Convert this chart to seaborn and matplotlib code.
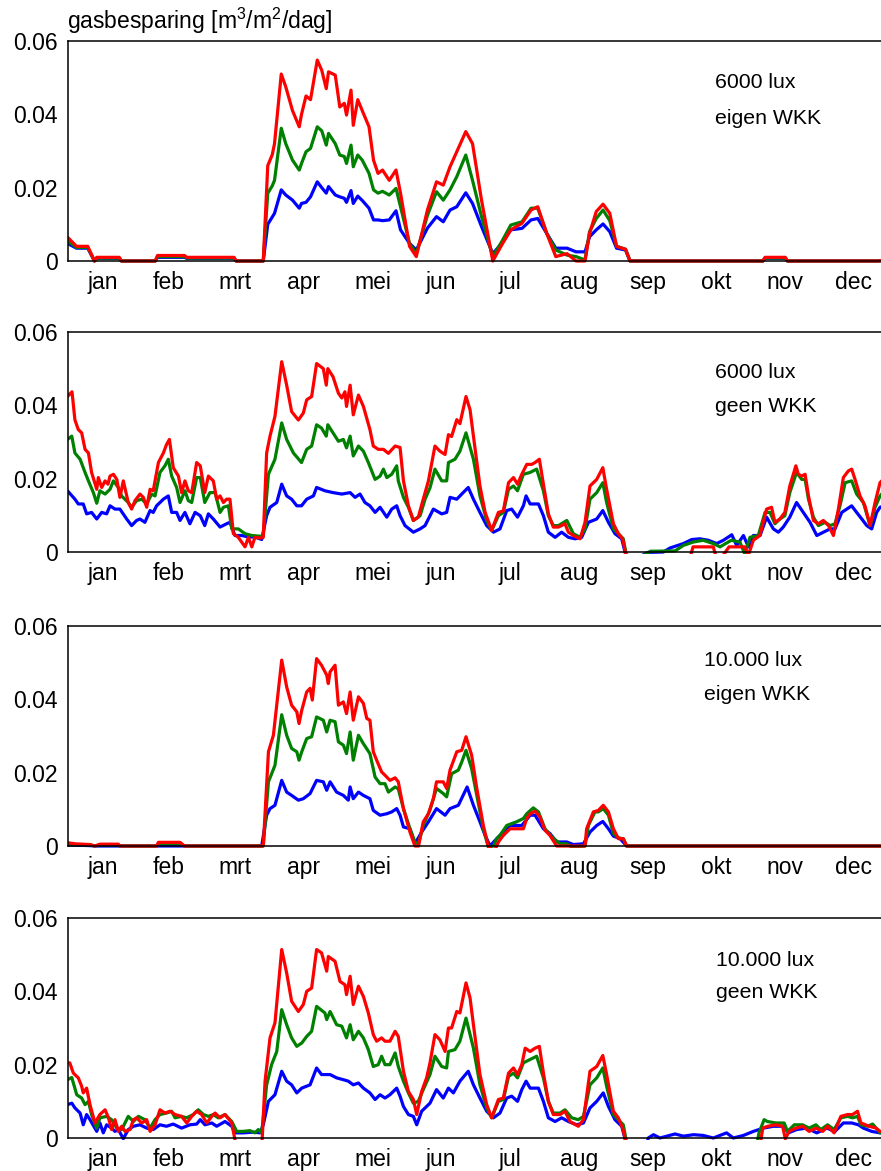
import matplotlib.pyplot as plt
import matplotlib.patches as mpatches
import pandas as pd
import seaborn as sns

# ── Axis data ────────────────────────────────────────────────────────────────
MONTHS = ["jan", "feb", "mrt", "apr", "mei", "jun",
          "jul", "aug", "sep", "okt", "nov", "dec"]
MONTH_DAYS = [31, 28, 31, 30, 31, 30, 31, 31, 30, 31, 30, 31]
Y_TICKS = [0, 0.02, 0.04, 0.06]
Y_LABELS = ["0", "0.02", "0.04", "0.06"]
LUX = ["6000 lux", "6000 lux", "10.000 lux", "10.000 lux"]
WKK = ["eigen WKK", "geen WKK", "eigen WKK", "geen WKK"]
SERIES = ["blauw", "groen", "rood"]
COLORS = {"blauw": "#0000FF", "groen": "#008000", "rood": "#FF0000"}

# ── Panel 1: 6000 lux, eigen WKK (shared day grid) ───────────────────────────
P1_DAY = [0, 4, 9, 12, 13, 23, 24, 39, 40, 52,
          53, 74, 75, 87, 89, 91, 92, 95, 97, 100,
          103, 104, 106, 108, 111, 113, 115, 116, 119, 121,
          123, 124, 126, 127, 129, 131, 134, 136, 138, 140,
          143, 146, 148, 152, 155, 160, 164, 167, 170, 173,
          177, 180, 184, 189, 193, 197, 202, 206, 209, 213,
          217, 222, 226, 230, 232, 235, 238, 241, 244, 248,
          250, 309, 310, 319, 320, 360, 365]
P1_RED = [0.0065, 0.0040, 0.0040, 0.0000, 0.0010, 0.0010, 0.0000, 0.0000, 0.0015, 0.0015,
          0.0010, 0.0010, 0.0000, 0.0000, 0.0260, 0.0290, 0.0320, 0.0510, 0.0475, 0.0410,
          0.0366, 0.0400, 0.0450, 0.0440, 0.0548, 0.0520, 0.0470, 0.0516, 0.0507, 0.0420,
          0.0430, 0.0398, 0.0466, 0.0370, 0.0440, 0.0410, 0.0366, 0.0275, 0.0239, 0.0248,
          0.0220, 0.0248, 0.0185, 0.0040, 0.0012, 0.0140, 0.0216, 0.0207, 0.0257, 0.0298,
          0.0353, 0.0320, 0.0166, 0.0000, 0.0044, 0.0085, 0.0103, 0.0139, 0.0148, 0.0075,
          0.0012, 0.0020, 0.0000, 0.0000, 0.0075, 0.0135, 0.0155, 0.0130, 0.0040, 0.0032,
          0.0000, 0.0000, 0.0010, 0.0010, 0.0000, 0.0000, 0.0003]
P1_GREEN = [0.0055, 0.0037, 0.0037, 0.0000, 0.0008, 0.0008, 0.0000, 0.0000, 0.0012, 0.0012,
            0.0008, 0.0008, 0.0000, 0.0000, 0.0185, 0.0205, 0.0220, 0.0362, 0.0320, 0.0275,
            0.0248, 0.0266, 0.0298, 0.0307, 0.0366, 0.0355, 0.0316, 0.0348, 0.0320, 0.0289,
            0.0285, 0.0266, 0.0316, 0.0257, 0.0289, 0.0275, 0.0239, 0.0194, 0.0185, 0.0190,
            0.0180, 0.0198, 0.0148, 0.0048, 0.0020, 0.0125, 0.0189, 0.0166, 0.0194, 0.0230,
            0.0289, 0.0220, 0.0121, 0.0012, 0.0053, 0.0098, 0.0107, 0.0144, 0.0144, 0.0075,
            0.0030, 0.0016, 0.0012, 0.0003, 0.0080, 0.0116, 0.0139, 0.0110, 0.0040, 0.0032,
            0.0000, 0.0000, 0.0008, 0.0008, 0.0000, 0.0000, 0.0002]
P1_BLUE = [0.0048, 0.0035, 0.0035, 0.0000, 0.0007, 0.0007, 0.0000, 0.0000, 0.0010, 0.0010,
           0.0007, 0.0007, 0.0000, 0.0000, 0.0100, 0.0120, 0.0130, 0.0194, 0.0180, 0.0166,
           0.0144, 0.0157, 0.0160, 0.0175, 0.0216, 0.0200, 0.0185, 0.0203, 0.0180, 0.0175,
           0.0171, 0.0160, 0.0192, 0.0157, 0.0177, 0.0165, 0.0144, 0.0112, 0.0112, 0.0110,
           0.0112, 0.0137, 0.0085, 0.0048, 0.0030, 0.0090, 0.0121, 0.0107, 0.0139, 0.0148,
           0.0186, 0.0157, 0.0094, 0.0020, 0.0048, 0.0085, 0.0089, 0.0112, 0.0116, 0.0075,
           0.0035, 0.0035, 0.0025, 0.0025, 0.0066, 0.0085, 0.0101, 0.0080, 0.0035, 0.0030,
           0.0000, 0.0000, 0.0007, 0.0007, 0.0000, 0.0000, 0.0002]

# ── Panel 2: 6000 lux, geen WKK ──────────────────────────────────────────────
P2_RED_DAY = [0, 2, 3.3, 4.8, 6.3, 7.8, 9.3, 10.7, 13, 13.7, 15.2, 16.7, 18, 18.9, 20.4,
              21.9, 23.3, 24.8, 27, 28.5, 30, 32.2, 33.7, 35.2, 36.7, 38.1, 40.4, 42.6,
              44, 45.3, 47, 49.3, 50.7, 52.2, 53.7, 55.2, 57.4, 59, 61, 62.6, 64.8, 66.3,
              67.8, 69.3, 70.7, 72.2, 73.7, 75.9, 78.9, 80.4, 81.9, 83.3, 85.6, 87, 88.5,
              90, 92.2, 95.2, 97.4, 99.6, 102.6, 104.8, 106.3, 108.5, 110.7, 113.7, 115,
              115.7, 118, 120.4, 121.9, 123.3, 124, 125.6, 127, 129.3, 131.5, 134.4, 135.9,
              138.1, 140.4, 142.6, 145.6, 147.8, 149.3, 151.5, 153.7, 155.9, 158.1, 160.4,
              163.3, 165.5, 167.8, 169.3, 170.7, 173, 174.4, 177.1, 178.9, 180.4, 183.3,
              185.6, 188.5, 191.5, 193.7, 196, 198.2, 200, 201.9, 204.1, 206.3, 207.8,
              209.7, 211.5, 213.7, 215.9, 218.2, 221.1, 222.6, 224.8, 227.8, 230, 232.2,
              235.2, 237.9, 239.6, 242.6, 244.8, 246.7, 249, 276, 278, 287, 289, 294, 301,
              302.5, 304.8, 307.7, 310.7, 312.9, 314.4, 316.6, 318.8, 321, 323.7, 324.8,
              326.3, 327.8, 329.3, 331.5, 333.7, 335.9, 338.2, 340.4, 342.6, 344.8, 347,
              348.5, 350, 352.2, 354.4, 356.7, 358.9, 361.1, 365]
P2_RED = [0.0424, 0.0437, 0.0360, 0.0334, 0.0325, 0.0280, 0.0270, 0.0217, 0.0171, 0.0203,
          0.0176, 0.0194, 0.0185, 0.0207, 0.0212, 0.0198, 0.0149, 0.0194, 0.0135, 0.0117,
          0.0140, 0.0158, 0.0149, 0.0122, 0.0171, 0.0167, 0.0244, 0.0270, 0.0293, 0.0307,
          0.0230, 0.0207, 0.0162, 0.0194, 0.0167, 0.0162, 0.0244, 0.0235, 0.0162, 0.0207,
          0.0194, 0.0144, 0.0153, 0.0135, 0.0144, 0.0144, 0.0050, 0.0040, 0.0014, 0.0040,
          0.0014, 0.0040, 0.0038, 0.0040, 0.0270, 0.0316, 0.0370, 0.0519, 0.0455, 0.0383,
          0.0360, 0.0379, 0.0415, 0.0424, 0.0514, 0.0500, 0.0455, 0.0500, 0.0478, 0.0433,
          0.0420, 0.0437, 0.0397, 0.0455, 0.0374, 0.0428, 0.0397, 0.0334, 0.0289, 0.0280,
          0.0280, 0.0269, 0.0289, 0.0285, 0.0194, 0.0126, 0.0086, 0.0095, 0.0144, 0.0194,
          0.0289, 0.0275, 0.0266, 0.0320, 0.0315, 0.0361, 0.0350, 0.0424, 0.0388, 0.0316,
          0.0180, 0.0108, 0.0059, 0.0108, 0.0112, 0.0189, 0.0203, 0.0185, 0.0212, 0.0239,
          0.0239, 0.0244, 0.0253, 0.0185, 0.0104, 0.0068, 0.0068, 0.0077, 0.0054, 0.0045,
          0.0036, 0.0081, 0.0180, 0.0198, 0.0230, 0.0171, 0.0077, 0.0050, 0.0036, -0.0030,
          -0.0030, 0.0014, 0.0014, -0.0030, 0.0014, 0.0014, -0.0010, 0.0032, 0.0045, 0.0117,
          0.0122, 0.0081, 0.0090, 0.0108, 0.0180, 0.0235, 0.0212, 0.0207, 0.0212, 0.0153,
          0.0086, 0.0077, 0.0086, 0.0072, 0.0045, 0.0117, 0.0203, 0.0221, 0.0226, 0.0198,
          0.0153, 0.0126, 0.0072, 0.0135, 0.0189, 0.0215]
P2_GREEN_DAY = [0, 1.9, 3.3, 5.6, 7.8, 9.3, 11.5, 13, 14.4, 16.7, 18.9, 20.4, 22.6, 24, 27,
                28.5, 30.7, 33, 35.2, 37.4, 38.9, 41.1, 43.3, 44.8, 46.3, 48.5, 50, 52.2,
                53.7, 55.2, 57.4, 59, 61, 63.3, 65.6, 67.8, 69.3, 71.5, 73, 75.9, 78.9,
                81.9, 85.6, 87, 89.3, 92.2, 95.2, 97.4, 100.4, 104, 106.3, 108.5, 110.7,
                112.9, 115, 115.7, 118, 120.4, 122.6, 124, 125.6, 127, 129.3, 131.5, 133.7,
                136.7, 138.9, 140.4, 141.9, 144.1, 146.3, 147, 149.3, 151.5, 153.7, 156.7,
                158.9, 161.1, 163.3, 166.3, 168.5, 169.3, 172.2, 174.4, 177.1, 180.4, 183.3,
                186.3, 188.5, 191.5, 193.7, 196, 198.2, 200, 202.6, 205.6, 208.5, 211.5,
                213.7, 215.9, 218.2, 221.9, 224.8, 227.8, 230, 232.2, 235.2, 237.9, 239.6,
                242.6, 244.8, 247, 249, 258, 259, 270, 273.7, 278, 282.5, 287, 290, 295,
                298.8, 301, 303.3, 307, 310, 312.2, 314.4, 316.6, 318.8, 321, 324, 326.3,
                327.8, 329.3, 331.5, 333.7, 336.7, 338.9, 341.1, 343.3, 345.6, 348.5, 350.7,
                353.7, 356.7, 358.9, 361.1, 365]
P2_GREEN = [0.0307, 0.0316, 0.0270, 0.0253, 0.0217, 0.0194, 0.0162, 0.0133, 0.0167, 0.0158,
            0.0171, 0.0194, 0.0176, 0.0153, 0.0135, 0.0122, 0.0140, 0.0144, 0.0131, 0.0158,
            0.0153, 0.0217, 0.0235, 0.0253, 0.0207, 0.0176, 0.0135, 0.0167, 0.0140, 0.0135,
            0.0203, 0.0203, 0.0135, 0.0162, 0.0162, 0.0108, 0.0122, 0.0126, 0.0063, 0.0063,
            0.0050, 0.0045, 0.0043, 0.0043, 0.0212, 0.0253, 0.0352, 0.0307, 0.0270, 0.0244,
            0.0280, 0.0289, 0.0347, 0.0338, 0.0316, 0.0347, 0.0325, 0.0302, 0.0307, 0.0284,
            0.0316, 0.0262, 0.0289, 0.0275, 0.0244, 0.0198, 0.0207, 0.0226, 0.0203, 0.0212,
            0.0235, 0.0194, 0.0149, 0.0122, 0.0086, 0.0099, 0.0144, 0.0175, 0.0226, 0.0194,
            0.0194, 0.0244, 0.0253, 0.0275, 0.0325, 0.0253, 0.0153, 0.0086, 0.0059, 0.0099,
            0.0108, 0.0171, 0.0180, 0.0167, 0.0212, 0.0217, 0.0226, 0.0167, 0.0099, 0.0072,
            0.0072, 0.0086, 0.0050, 0.0040, 0.0063, 0.0144, 0.0162, 0.0189, 0.0135, 0.0063,
            0.0050, 0.0036, -0.0030, -0.0003, 0.0002, 0.0003, 0.0018, 0.0027, 0.0032, 0.0023,
            0.0014, 0.0032, 0.0027, -0.0005, 0.0040, 0.0045, 0.0108, 0.0108, 0.0077, 0.0090,
            0.0099, 0.0162, 0.0217, 0.0198, 0.0198, 0.0144, 0.0095, 0.0072, 0.0081, 0.0072,
            0.0077, 0.0126, 0.0189, 0.0194, 0.0158, 0.0135, 0.0072, 0.0122, 0.0153, 0.0180]
P2_BLUE_DAY = [0, 3.3, 4.8, 7, 8.5, 10.7, 13, 15.2, 17.4, 18.9, 21.1, 23.3, 26.3, 28.5,
               30.7, 32.2, 34.4, 36.7, 38.1, 39.6, 42.6, 44.8, 46.3, 48.5, 50, 52.2, 54.4,
               56.7, 59, 61, 62.6, 64.8, 67.8, 70.7, 72.2, 74.4, 77.4, 80.4, 83.3, 86.3,
               88.5, 90, 93, 95.2, 97.4, 99.6, 101.9, 104, 106.3, 109.3, 110.7, 114.4, 118,
               121.9, 125.6, 127.8, 130, 132.2, 134.4, 136.7, 138.9, 141.9, 144.1, 146.3,
               147.8, 150, 153.7, 156.7, 158.9, 162.6, 166.3, 168.5, 170, 173, 175.2, 178.1,
               180.4, 183.3, 186.3, 189.3, 192.2, 195.2, 197.4, 200, 202.6, 203.8, 205.6,
               209.3, 211.5, 213.7, 216.7, 219.6, 222.6, 225.6, 228.5, 231.5, 235.2, 237.9,
               240.4, 243.3, 246.3, 249, 258, 264.8, 267.8, 273.7, 277.4, 281, 284.8, 288.5,
               291.5, 295.2, 297.4, 300.4, 302.6, 304.8, 307.8, 310.7, 313.7, 315.9, 318.1,
               321, 324, 327, 330, 333, 336, 338.9, 341.1, 344.1, 348.5, 350.7, 353, 355.2,
               357.4, 359.6, 361.1, 365]
P2_BLUE = [0.0167, 0.0144, 0.0131, 0.0131, 0.0104, 0.0108, 0.0090, 0.0108, 0.0104, 0.0126,
           0.0117, 0.0117, 0.0090, 0.0072, 0.0086, 0.0090, 0.0081, 0.0113, 0.0108, 0.0126,
           0.0144, 0.0153, 0.0108, 0.0108, 0.0086, 0.0108, 0.0077, 0.0108, 0.0099, 0.0072,
           0.0104, 0.0090, 0.0068, 0.0077, 0.0081, 0.0045, 0.0045, 0.0041, 0.0041, 0.0034,
           0.0099, 0.0122, 0.0135, 0.0185, 0.0153, 0.0144, 0.0126, 0.0126, 0.0144, 0.0153,
           0.0176, 0.0167, 0.0162, 0.0158, 0.0162, 0.0149, 0.0158, 0.0135, 0.0126, 0.0108,
           0.0122, 0.0095, 0.0117, 0.0126, 0.0099, 0.0072, 0.0054, 0.0063, 0.0072, 0.0117,
           0.0104, 0.0108, 0.0149, 0.0144, 0.0158, 0.0176, 0.0144, 0.0108, 0.0072, 0.0054,
           0.0063, 0.0113, 0.0117, 0.0095, 0.0126, 0.0153, 0.0131, 0.0131, 0.0099, 0.0054,
           0.0040, 0.0054, 0.0040, 0.0036, 0.0040, 0.0081, 0.0090, 0.0113, 0.0081, 0.0050,
           0.0036, -0.0030, -0.0001, 0.0000, 0.0011, 0.0023, 0.0034, 0.0036, 0.0032, 0.0023,
           0.0032, 0.0047, 0.0018, 0.0045, 0.0014, 0.0045, 0.0045, 0.0095, 0.0063, 0.0054,
           0.0068, 0.0095, 0.0135, 0.0108, 0.0081, 0.0045, 0.0054, 0.0063, 0.0063, 0.0108,
           0.0126, 0.0108, 0.0090, 0.0072, 0.0063, 0.0108, 0.0122, 0.0130]

# ── Panel 3: 10.000 lux, eigen WKK ───────────────────────────────────────────
P3_RED_DAY = [0, 3.3, 10, 12.2, 14.4, 22.6, 23.3, 39.6, 40.4, 50, 52, 87, 89.3, 91.5,
              95.2, 97.4, 99.6, 101.9, 102.9, 104.1, 106.3, 107.8, 108.8, 110.7, 112.9,
              115.2, 115.9, 116.7, 118.9, 120.4, 122.6, 124, 125.6, 127, 129.3, 131.5, 133,
              134.4, 135.9, 137.4, 139.6, 141.1, 143.3, 145.6, 147, 149.3, 152.2, 154.4,
              156, 158.1, 160.4, 162.6, 164, 167, 168.5, 170, 173, 175.2, 177.1, 179.6,
              181.9, 184.8, 187, 189.3, 191.5, 193.7, 196.7, 200.4, 202.6, 204.1, 205.6,
              207.8, 210, 212.2, 214.4, 217.4, 230, 230.7, 233.7, 235.9, 238.1, 240.4,
              242.6, 244.8, 247, 248.5, 365]
P3_RED = [0.0009, 0.0006, 0.0004, 0.0000, 0.0005, 0.0005, 0.0000, 0.0000, 0.0010, 0.0010,
          0.0000, 0.0000, 0.0257, 0.0302, 0.0507, 0.0434, 0.0384, 0.0366, 0.0334, 0.0370,
          0.0420, 0.0430, 0.0398, 0.0511, 0.0493, 0.0466, 0.0443, 0.0475, 0.0493, 0.0384,
          0.0393, 0.0361, 0.0420, 0.0343, 0.0407, 0.0389, 0.0348, 0.0343, 0.0257, 0.0234,
          0.0202, 0.0193, 0.0179, 0.0186, 0.0175, 0.0102, 0.0038, 0.0000, 0.0000, 0.0066,
          0.0088, 0.0129, 0.0175, 0.0175, 0.0157, 0.0207, 0.0257, 0.0261, 0.0298, 0.0248,
          0.0157, 0.0056, 0.0000, -0.0020, 0.0011, 0.0029, 0.0047, 0.0047, 0.0047, 0.0075,
          0.0088, 0.0095, 0.0079, 0.0043, 0.0029, 0.0000, 0.0000, 0.0047, 0.0093, 0.0097,
          0.0111, 0.0093, 0.0047, 0.0020, 0.0020, 0.0000, 0.0000]
P3_GREEN_DAY = [0, 3.3, 10, 12.2, 14.4, 22.6, 23.3, 39.6, 40.4, 50, 52, 87, 89.3, 92.2,
                95.2, 97.4, 99.6, 101.9, 102.9, 104.1, 106.3, 108.5, 110.7, 113.7, 115.2,
                116.7, 118.9, 120.4, 122.6, 124, 125.6, 127, 129.3, 131.5, 134.4, 136.7,
                138.9, 141.1, 142.6, 145.6, 147, 149.3, 152.2, 154.4, 156, 158.1, 161, 164,
                167, 168.5, 170.7, 173.7, 175.2, 177.1, 179.6, 181.9, 184.8, 187, 189.3,
                190.7, 192.2, 195.2, 199.6, 202.6, 204.1, 207, 209.3, 212.2, 215.2, 218.9,
                221.9, 224.1, 230, 231.5, 234.4, 235.9, 238.1, 240.4, 242.6, 244.8, 247,
                248.5, 365]
P3_GREEN = [0.0006, 0.0004, 0.0003, 0.0000, 0.0003, 0.0003, 0.0000, 0.0000, 0.0007, 0.0007,
            0.0000, 0.0000, 0.0175, 0.0220, 0.0358, 0.0302, 0.0266, 0.0257, 0.0234, 0.0257,
            0.0293, 0.0298, 0.0352, 0.0343, 0.0311, 0.0343, 0.0339, 0.0284, 0.0275, 0.0252,
            0.0311, 0.0234, 0.0302, 0.0279, 0.0252, 0.0188, 0.0170, 0.0170, 0.0147, 0.0161,
            0.0156, 0.0102, 0.0047, 0.0011, 0.0006, 0.0056, 0.0097, 0.0157, 0.0143, 0.0134,
            0.0197, 0.0207, 0.0229, 0.0261, 0.0211, 0.0138, 0.0047, -0.0003, 0.0000, 0.0020,
            0.0029, 0.0056, 0.0066, 0.0075, 0.0088, 0.0104, 0.0093, 0.0047, 0.0025, 0.0006,
            0.0006, -0.0003, 0.0000, 0.0056, 0.0093, 0.0093, 0.0102, 0.0084, 0.0034, 0.0022,
            0.0020, 0.0000, 0.0000]
P3_BLUE_DAY = [0, 10, 12.2, 86.3, 88.5, 90, 92.2, 95.2, 97.4, 99.6, 102.6, 104.8, 107.8,
               110.7, 113.7, 115.2, 116.7, 119.6, 122.6, 124.8, 125.6, 127, 129.3, 131.5,
               134.4, 135.9, 138.9, 141.9, 144.1, 146.3, 147.8, 149.3, 152.2, 154.4, 157.4,
               160.4, 164, 167.8, 170, 173.7, 177.6, 180.4, 183.3, 185.6, 187.8, 190, 192.2,
               196.7, 201.9, 205.6, 207.8, 211.5, 214.4, 217.4, 221.9, 224.8, 229.3, 232.2,
               235.2, 237.9, 240.4, 242.6, 245.6, 248.5, 365]
P3_BLUE = [0.0003, 0.0001, 0.0000, 0.0000, 0.0084, 0.0102, 0.0111, 0.0179, 0.0147, 0.0138,
           0.0125, 0.0129, 0.0143, 0.0179, 0.0175, 0.0152, 0.0175, 0.0147, 0.0138, 0.0125,
           0.0161, 0.0129, 0.0147, 0.0138, 0.0129, 0.0097, 0.0084, 0.0088, 0.0093, 0.0102,
           0.0084, 0.0052, 0.0047, 0.0006, 0.0038, 0.0066, 0.0102, 0.0084, 0.0102, 0.0111,
           0.0161, 0.0111, 0.0066, 0.0029, 0.0000, 0.0015, 0.0029, 0.0056, 0.0056, 0.0084,
           0.0084, 0.0047, 0.0034, 0.0011, 0.0011, 0.0004, 0.0006, 0.0038, 0.0056, 0.0067,
           0.0047, 0.0027, 0.0020, 0.0000, 0.0000]

# ── Panel 4: 10.000 lux, geen WKK ────────────────────────────────────────────
P4_RED_DAY = [0, 1, 2.6, 4.8, 6.3, 7, 8.5, 10, 12.2, 14.4, 16.7, 18.2, 19.6, 21.1, 22.6,
              24.1, 25.6, 27.8, 29.3, 30.7, 33, 35.2, 36.7, 38.9, 41.1, 43.3, 45.6, 47.8,
              50.7, 53, 55.2, 57.4, 59.6, 61.9, 64.1, 65.6, 67.8, 70, 73, 75.2, 86.3, 87.8,
              90, 92.2, 95.2, 97.4, 99.6, 102.6, 104.8, 106.3, 108.5, 110.7, 112.9, 115.2,
              115.9, 118.9, 121.1, 123.3, 124, 125.6, 127, 129.3, 131.5, 133.7, 135.9,
              137.4, 139.6, 141.1, 143.3, 145.6, 147, 149.3, 151.5, 153.7, 155.2, 157.4,
              159.6, 161.1, 163.3, 165.5, 167.8, 169.3, 170.7, 173, 174.4, 177.1, 178.9,
              180.4, 183.3, 186.3, 188.5, 191.5, 193.7, 196, 198.2, 200, 201.9, 203.4,
              205.6, 207.8, 209.7, 211.5, 213.7, 215.9, 218.9, 221.1, 223.3, 227, 229.3,
              232.2, 235.2, 237.9, 239.6, 242.6, 244.8, 246.7, 249, 307.5, 309, 311.2,
              314.8, 317.8, 319, 320.7, 323.7, 326.7, 329.6, 332.6, 335.6, 337.8, 340.7,
              343.7, 346.7, 348.9, 351.1, 352.6, 356.3, 359.3, 361.1, 365]
P4_RED = [0.0205, 0.0205, 0.0177, 0.0164, 0.0141, 0.0123, 0.0136, 0.0091, 0.0041, 0.0064,
          0.0077, 0.0055, 0.0023, 0.0050, 0.0018, 0.0032, 0.0018, 0.0023, 0.0050, 0.0055,
          0.0041, 0.0050, 0.0018, 0.0036, 0.0077, 0.0068, 0.0073, 0.0064, 0.0059, 0.0041,
          0.0059, 0.0073, 0.0064, 0.0041, 0.0059, 0.0068, 0.0055, 0.0064, 0.0041, -0.0030,
          -0.0030, 0.0155, 0.0273, 0.0314, 0.0514, 0.0450, 0.0373, 0.0345, 0.0364, 0.0400,
          0.0409, 0.0514, 0.0505, 0.0455, 0.0495, 0.0482, 0.0427, 0.0418, 0.0391, 0.0441,
          0.0364, 0.0414, 0.0386, 0.0341, 0.0282, 0.0264, 0.0273, 0.0264, 0.0264, 0.0291,
          0.0277, 0.0182, 0.0127, 0.0105, 0.0064, 0.0127, 0.0164, 0.0205, 0.0282, 0.0268,
          0.0236, 0.0300, 0.0300, 0.0345, 0.0341, 0.0423, 0.0382, 0.0309, 0.0173, 0.0091,
          0.0055, 0.0105, 0.0109, 0.0177, 0.0191, 0.0173, 0.0200, 0.0245, 0.0236, 0.0245,
          0.0250, 0.0177, 0.0100, 0.0064, 0.0064, 0.0073, 0.0045, 0.0032, 0.0050, 0.0182,
          0.0195, 0.0225, 0.0173, 0.0073, 0.0055, 0.0027, -0.0030, -0.0030, 0.0027, 0.0032,
          0.0036, 0.0032, -0.0002, 0.0018, 0.0027, 0.0032, 0.0018, 0.0027, 0.0018, 0.0032,
          0.0014, 0.0059, 0.0064, 0.0064, 0.0073, 0.0041, 0.0032, 0.0027, 0.0018, 0.0020]
P4_GREEN_DAY = [0, 1.9, 4.1, 6.3, 7.8, 9.3, 10.7, 13, 14.4, 17.4, 19.6, 21.9, 24.1, 27,
                29.3, 31.5, 34.4, 36.7, 38.9, 41.1, 44, 46.3, 47.8, 50.7, 53, 55.9, 58.1,
                60.4, 62.6, 64.8, 67, 70, 73, 75.2, 78.1, 81.1, 83.3, 84.8, 86.3, 88.5,
                90.7, 93, 95.2, 97.4, 99.6, 101.9, 104.1, 106.3, 108.5, 110.7, 114.4, 115.2,
                116.7, 119.6, 121.9, 124, 125.6, 127, 129.3, 131.5, 133.7, 135.9, 138.1,
                139.6, 141.1, 143.3, 145.6, 147, 149.3, 151.5, 153.7, 155.9, 158.1, 161.1,
                163.3, 166.3, 168.5, 169.3, 172.2, 174.4, 177.1, 180.4, 183.3, 186.3, 188.5,
                191.5, 193.7, 196, 198.2, 200, 202.6, 205.6, 208.5, 211.5, 213.7, 215.9,
                218.9, 221.1, 224.1, 227, 229.3, 232.2, 235.2, 237.9, 239.6, 242.6, 244.8,
                247, 249, 306, 307.3, 309.6, 311, 314.8, 318.5, 320, 323, 326.7, 329.6,
                332.6, 334.8, 337.8, 340.7, 343.7, 346.7, 348.9, 351.1, 352.6, 355.6, 357.8,
                360, 361.1, 365]
P4_GREEN = [0.0159, 0.0165, 0.0118, 0.0109, 0.0091, 0.0100, 0.0064, 0.0027, 0.0055, 0.0059,
            0.0050, 0.0027, 0.0023, 0.0059, 0.0045, 0.0059, 0.0050, 0.0027, 0.0050, 0.0064,
            0.0068, 0.0073, 0.0055, 0.0059, 0.0055, 0.0064, 0.0077, 0.0064, 0.0059, 0.0064,
            0.0055, 0.0064, 0.0045, 0.0018, 0.0018, 0.0020, 0.0014, 0.0023, 0.0014, 0.0145,
            0.0200, 0.0236, 0.0350, 0.0309, 0.0273, 0.0250, 0.0259, 0.0277, 0.0291, 0.0359,
            0.0341, 0.0323, 0.0345, 0.0309, 0.0305, 0.0273, 0.0309, 0.0268, 0.0291, 0.0273,
            0.0241, 0.0195, 0.0200, 0.0223, 0.0200, 0.0200, 0.0232, 0.0195, 0.0155, 0.0123,
            0.0095, 0.0100, 0.0132, 0.0173, 0.0223, 0.0195, 0.0191, 0.0236, 0.0241, 0.0264,
            0.0327, 0.0245, 0.0145, 0.0082, 0.0055, 0.0100, 0.0105, 0.0168, 0.0177, 0.0164,
            0.0205, 0.0214, 0.0223, 0.0164, 0.0100, 0.0068, 0.0068, 0.0077, 0.0055, 0.0050,
            0.0059, 0.0145, 0.0164, 0.0191, 0.0141, 0.0064, 0.0050, 0.0036, -0.0030, -0.0030,
            0.0014, 0.0050, 0.0045, 0.0041, 0.0041, 0.0018, 0.0036, 0.0036, 0.0027, 0.0036,
            0.0023, 0.0036, 0.0023, 0.0055, 0.0059, 0.0055, 0.0059, 0.0036, 0.0032, 0.0038,
            0.0023, 0.0014, 0.0015]
P4_BLUE_DAY = [0, 1.9, 3.3, 5.6, 7, 8.5, 10, 13, 14.4, 15.9, 17.4, 19.6, 21.1, 22.6, 24.8,
               27, 29.3, 32.2, 35.2, 38.1, 41.1, 44, 47, 50.7, 54.4, 57.4, 59, 61.1, 64.1,
               66.3, 70, 73, 74.4, 78.1, 82.6, 85.6, 87, 89.3, 92.2, 95.2, 97.4, 99.6,
               101.9, 104.1, 107.8, 110.7, 112.9, 116.7, 119.6, 122.6, 124.8, 127, 129.3,
               131.5, 134.4, 136.7, 138.9, 141.1, 143.3, 146.3, 147.8, 149.3, 151.5, 153.7,
               155.2, 157.4, 161.1, 164, 167, 169.3, 171.5, 174.4, 178.1, 180.4, 183.3,
               186.3, 189.3, 192.2, 195.2, 197.4, 200, 201.9, 203.8, 205.6, 209.3, 211.5,
               213.7, 216.7, 219.6, 222.6, 226.3, 229.3, 232.2, 235.2, 238.1, 240.4, 243.3,
               246.3, 249, 257, 258.1, 260.4, 263.3, 266.3, 270, 273.7, 278.2, 282.5, 287,
               292.9, 295.9, 300.4, 304.8, 309.3, 313.7, 318.1, 320.4, 324, 328.5, 333,
               337.4, 341.1, 344.8, 348.5, 351.5, 353.7, 357.4, 361.1, 365]
P4_BLUE = [0.0091, 0.0095, 0.0082, 0.0068, 0.0036, 0.0064, 0.0050, 0.0018, 0.0041, 0.0014,
           0.0036, 0.0027, 0.0018, 0.0023, -0.0002, 0.0023, 0.0032, 0.0036, 0.0027, 0.0023,
           0.0036, 0.0032, 0.0038, 0.0027, 0.0036, 0.0038, 0.0050, 0.0036, 0.0041, 0.0032,
           0.0045, 0.0032, 0.0014, 0.0014, 0.0016, 0.0014, 0.0036, 0.0100, 0.0118, 0.0182,
           0.0155, 0.0145, 0.0123, 0.0136, 0.0145, 0.0191, 0.0173, 0.0173, 0.0164, 0.0159,
           0.0155, 0.0145, 0.0150, 0.0136, 0.0123, 0.0105, 0.0118, 0.0109, 0.0118, 0.0136,
           0.0114, 0.0086, 0.0064, 0.0059, 0.0036, 0.0073, 0.0095, 0.0132, 0.0109, 0.0136,
           0.0123, 0.0155, 0.0182, 0.0145, 0.0109, 0.0073, 0.0055, 0.0068, 0.0109, 0.0114,
           0.0100, 0.0132, 0.0155, 0.0136, 0.0136, 0.0100, 0.0055, 0.0045, 0.0055, 0.0045,
           0.0036, 0.0041, 0.0082, 0.0100, 0.0123, 0.0086, 0.0050, 0.0032, -0.0030, -0.0030,
           0.0000, 0.0009, 0.0000, 0.0005, 0.0011, 0.0005, 0.0009, 0.0007, 0.0000, 0.0014,
           0.0000, 0.0007, 0.0018, 0.0027, 0.0032, 0.0032, 0.0014, 0.0023, 0.0027, 0.0014,
           0.0027, 0.0018, 0.0041, 0.0041, 0.0036, 0.0027, 0.0018, 0.0014, 0.0013]

PANELS = [
    {"blauw": (P1_DAY, P1_BLUE), "groen": (P1_DAY, P1_GREEN), "rood": (P1_DAY, P1_RED)},
    {"blauw": (P2_BLUE_DAY, P2_BLUE), "groen": (P2_GREEN_DAY, P2_GREEN),
     "rood": (P2_RED_DAY, P2_RED)},
    {"blauw": (P3_BLUE_DAY, P3_BLUE), "groen": (P3_GREEN_DAY, P3_GREEN),
     "rood": (P3_RED_DAY, P3_RED)},
    {"blauw": (P4_BLUE_DAY, P4_BLUE), "groen": (P4_GREEN_DAY, P4_GREEN),
     "rood": (P4_RED_DAY, P4_RED)},
]


def panel_frame(panel):
    frames = []
    for name in SERIES:
        days, vals = panel[name]
        frames.append(pd.DataFrame({"dag": days, "besparing": vals, "reeks": name}))
    return pd.concat(frames, ignore_index=True)


# ── Figure ───────────────────────────────────────────────────────────────────
sns.set_style("white")
plt.rcParams["font.family"] = ["Liberation Sans", "DejaVu Sans"]
plt.rcParams.update({
    "text.color": "black",
    "xtick.color": "black",
    "ytick.color": "black",
    "axes.labelcolor": "black",
    "mathtext.fontset": "custom",
    "mathtext.rm": "Liberation Sans",
    "mathtext.it": "Liberation Sans",
    "mathtext.default": "regular",
})

W, H = 881, 1171
fig = plt.figure(figsize=(W / 100, H / 100), dpi=100)

month_edges = [0]
for n in MONTH_DAYS:
    month_edges.append(month_edges[-1] + n)
month_mid = [(a + b) / 2 for a, b in zip(month_edges[:-1], month_edges[1:])]

# axes box in pixels: left, top, height (right edge runs past the image)
ax_left, ax_right = 67.5, 888.8
ax_tops = [41, 332, 626, 918]
ax_h = 220
text_pos = [(715, 83, 118), (715, 373, 407), (704, 661, 694), (716, 960, 993)]

for i, panel in enumerate(PANELS):
    top = ax_tops[i]
    ax = fig.add_axes([ax_left / W, 1 - (top + ax_h) / H,
                       (ax_right - ax_left) / W, ax_h / H])
    df = panel_frame(panel)
    sns.lineplot(data=df, x="dag", y="besparing", hue="reeks", hue_order=SERIES,
                 palette=COLORS, estimator=None, sort=False, legend=False,
                 lw=2.3, ax=ax)
    # let lines lying on zero show full width, hide what dips below
    clip = mpatches.Rectangle((0, -0.008), 1, 1.016, transform=ax.transAxes,
                              facecolor="none", edgecolor="none")
    ax.add_patch(clip)
    for ln in ax.get_lines():
        ln.set_clip_path(clip)

    ax.set_xlim(0, 365)
    ax.set_ylim(0, 0.06)
    ax.set_xlabel("")
    ax.set_ylabel("")
    ax.set_yticks(Y_TICKS, Y_LABELS)
    ax.set_xticks(month_edges)
    ax.set_xticklabels([])
    ax.set_xticks(month_mid, MONTHS, minor=True)
    ax.tick_params(axis="y", direction="in", length=8.5, width=1, labelsize=16.5,
                   pad=7, colors="black")
    ax.tick_params(axis="x", which="major", direction="in", length=5.5, width=1)
    ax.tick_params(axis="x", which="minor", length=0, labelsize=16.5, pad=7.5,
                   colors="black")
    for sp in ax.spines.values():
        sp.set_color("black")
        sp.set_linewidth(1.1)

    tx, y1, y2 = text_pos[i]
    fig.text(tx / W, 1 - y1 / H, LUX[i], fontsize=15.3, va="center", ha="left")
    fig.text(tx / W, 1 - y2 / H, WKK[i], fontsize=15.3, va="center", ha="left")

fig.text(67 / W, 1 - 29 / H, "gasbesparing [m$^3$/m$^2$/dag]", fontsize=16.5,
         va="baseline", ha="left")

fig.savefig("out.png", dpi=100)
